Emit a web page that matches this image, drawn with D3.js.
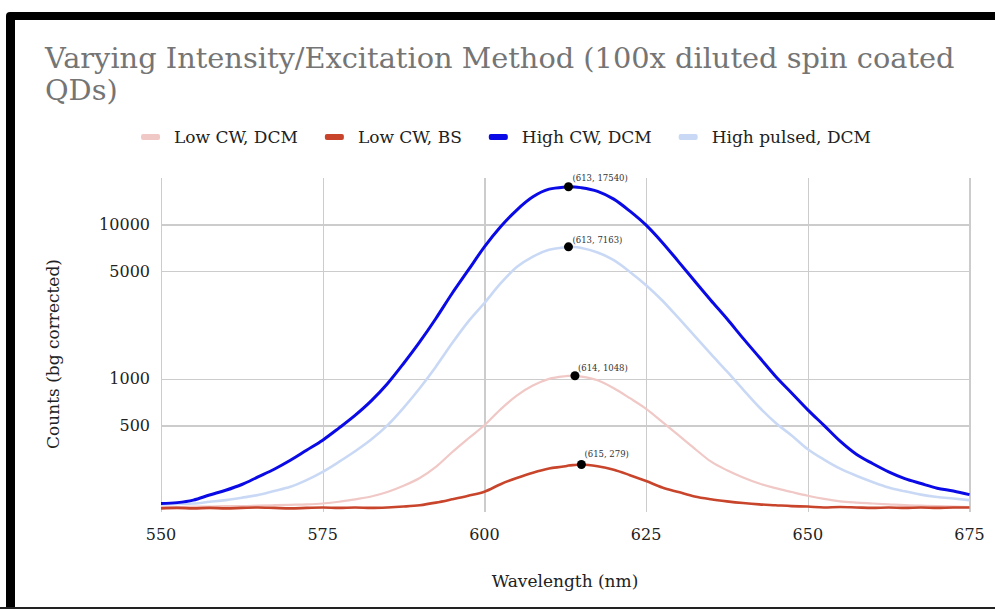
<!DOCTYPE html>
<html lang="en">
<head>
    <meta charset="UTF-8">
    <title>Varying Intensity/Excitation Method</title>
    <script src="https://cdnjs.cloudflare.com/ajax/libs/d3/7.8.5/d3.min.js"></script>
    <style>
        body { margin: 0; background: #fff; }
        svg { display: block; font-family: "DejaVu Serif", "Liberation Serif", serif; }
        .grid line { stroke: #cccccc; stroke-width: 1.3; shape-rendering: crispEdges; }
        .grid path { display: none; }
        .tick-label { font-size: 16px; fill: #222; }
        .axis-title { font-size: 17px; fill: #222; }
        .legend text { font-size: 17px; fill: #222; }
        .peak-label { font-size: 8.5px; fill: #333; }
    </style>
</head>
<body>
<div id="chart"></div>
<script>
    // wavelength (nm) sample points
    const wavelengths = [550, 552.5, 555, 557.5, 560, 562.5, 565, 567.5, 570, 572.5, 575, 577.5, 580, 582.5, 585, 587.5,
        590, 592.5, 595, 597.5, 600, 602.5, 605, 607.5, 610, 612.5, 613, 614, 615, 617.5, 620, 622.5, 625, 627.5, 630,
        632.5, 635, 637.5, 640, 642.5, 645, 647.5, 650, 652.5, 655, 657.5, 660, 662.5, 665, 667.5, 670, 672.5, 675];

    const lowCwDcm = [148, 148, 149, 149, 150, 150, 151, 152, 153, 154, 156, 160, 166, 173, 185, 203,
        228, 269, 335, 411, 501, 635, 780, 905, 1000, 1040, 1045, 1048, 1035, 980, 870, 750, 640, 527, 432,
        354, 292, 256, 230, 210, 196, 185, 175, 167, 161, 158, 156, 154, 152, 151, 150, 149, 148];

    const lowCwBs = [145, 146, 145, 146, 145, 146, 147, 146, 145, 146, 147, 146, 147, 146, 147, 149,
        152, 158, 166, 175, 186, 208, 228, 247, 263, 272, 275, 277, 279, 272, 258, 238, 218, 198, 185,
        173, 166, 161, 157, 154, 152, 150, 149, 147, 148, 147, 146, 147, 146, 147, 146, 147, 147];

    const highCwDcm = [156, 158, 164, 177, 190, 207, 232, 260, 297, 345, 401, 480, 580, 720, 930, 1258,
        1736, 2462, 3573, 5058, 7161, 9660, 12400, 15100, 16930, 17480, 17540, 17500, 17300, 16400, 14600, 12200, 9900, 7650, 5750,
        4300, 3230, 2450, 1830, 1380, 1040, 810, 630, 500, 395, 325, 283, 250, 226, 210, 196, 188, 178];

    const highPulsedDcm = [154, 155, 156, 160, 164, 170, 177, 188, 200, 221, 250, 290, 340, 405, 500, 650,
        870, 1200, 1700, 2350, 3100, 4150, 5300, 6200, 6850, 7120, 7163, 7150, 7050, 6590, 5870, 4930, 4045, 3220, 2480,
        1900, 1450, 1117, 853, 655, 520, 430, 350, 300, 262, 236, 215, 198, 187, 178, 172, 168, 164];

    const seriesNames = ["Low CW, DCM", "Low CW, BS", "High CW, DCM", "High pulsed, DCM"];
    const seriesValues = [lowCwDcm, lowCwBs, highCwDcm, highPulsedDcm];
    const seriesColors = ["#f0c8c6", "#c8452c", "#0a0ae6", "#c9d9f5"];
    const seriesWidths = [2.2, 2.6, 3, 2.6];
    const drawOrder = [3, 0, 1, 2];

    // annotated peaks [wavelength, counts]
    const peaks = [[613, 17540], [613, 7163], [614, 1048], [615, 279]];
    const peakOffsets = [[4, -6], [4, -4], [3, -5], [3, -7]];

    const xTicks = [550, 575, 600, 625, 650, 675];
    const yTicks = [500, 1000, 5000, 10000];

    const W = 995, H = 609;
    const plot = {left: 161, right: 969.5, top: 178, bottom: 511.7};

    const svg = d3.select("#chart").append("svg")
        .attr("width", W)
        .attr("height", H);

    // screenshot frame
    svg.append("rect").attr("x", 6).attr("y", 12).attr("width", 1000).attr("height", 620)
        .attr("rx", 4).attr("fill", "#000");
    svg.append("rect").attr("x", 15).attr("y", 20).attr("width", 990).attr("height", 587)
        .attr("fill", "#fff");
    svg.append("rect").attr("x", 0).attr("y", 607).attr("width", W).attr("height", 2)
        .attr("fill", "#222");

    const x = d3.scaleLinear().domain([550, 675]).range([plot.left, plot.right]);
    const y = d3.scaleLog().domain([138, 20000]).range([plot.bottom, plot.top]);

    // grid
    svg.append("g")
        .attr("class", "grid")
        .attr("transform", `translate(0,${plot.bottom})`)
        .call(d3.axisBottom(x).tickValues(xTicks).tickSize(-(plot.bottom - plot.top)).tickFormat(""));
    svg.append("g")
        .attr("class", "grid")
        .attr("transform", `translate(${plot.left},0)`)
        .call(d3.axisLeft(y).tickValues(yTicks).tickSize(-(plot.right - plot.left)).tickFormat(""));

    // tick labels
    svg.selectAll(".xt").data(xTicks).enter().append("text")
        .attr("class", "tick-label")
        .attr("x", d => x(d))
        .attr("y", 540)
        .attr("text-anchor", "middle")
        .text(d => d);
    svg.selectAll(".yt").data(yTicks).enter().append("text")
        .attr("class", "tick-label")
        .attr("x", 150)
        .attr("y", d => y(d))
        .attr("dy", "0.35em")
        .attr("text-anchor", "end")
        .text(d => d);

    // axis titles
    svg.append("text")
        .attr("class", "axis-title")
        .attr("x", 565)
        .attr("y", 587)
        .attr("text-anchor", "middle")
        .text("Wavelength (nm)");
    svg.append("text")
        .attr("class", "axis-title")
        .attr("transform", "translate(53,354) rotate(-90)")
        .attr("dy", "0.35em")
        .attr("text-anchor", "middle")
        .text("Counts (bg corrected)");

    // lines
    const line = d3.line()
        .x(d => x(d[0]))
        .y(d => y(d[1]))
        .curve(d3.curveMonotoneX);

    drawOrder.forEach(i => {
        svg.append("path")
            .datum(wavelengths.map((w, j) => [w, seriesValues[i][j]]))
            .attr("fill", "none")
            .attr("stroke", seriesColors[i])
            .attr("stroke-width", seriesWidths[i])
            .attr("stroke-linejoin", "round")
            .attr("d", line);
    });

    // peak markers
    peaks.forEach((p, i) => {
        svg.append("circle")
            .attr("cx", x(p[0]))
            .attr("cy", y(p[1]))
            .attr("r", 4.5)
            .attr("fill", "#000");
        svg.append("text")
            .attr("class", "peak-label")
            .attr("x", x(p[0]) + peakOffsets[i][0])
            .attr("y", y(p[1]) + peakOffsets[i][1])
            .text(`(${p[0]}, ${p[1]})`);
    });

    // title, fitted to the width of the original first line
    const title = svg.append("text")
        .attr("x", 45)
        .attr("y", 68)
        .attr("fill", "#757575")
        .style("font-size", "30px");
    title.append("tspan").attr("x", 45).text("Varying Intensity/Excitation Method (100x diluted spin coated");
    title.append("tspan").attr("x", 45).attr("dy", 32).text("QDs)");
    const firstLine = title.select("tspan").node().getComputedTextLength();
    title.style("font-size", (30 * 910 / firstLine) + "px");

    // legend
    const legend = svg.append("g").attr("class", "legend");
    let lx = 0;
    seriesNames.forEach((name, i) => {
        legend.append("rect")
            .attr("x", lx).attr("y", 134)
            .attr("width", 19).attr("height", 6).attr("rx", 2)
            .attr("fill", seriesColors[i]);
        const t = legend.append("text")
            .attr("x", lx + 33).attr("y", 143)
            .text(name);
        lx += 33 + t.node().getComputedTextLength() + 27;
    });
    lx -= 27;
    legend.attr("transform", `translate(${506 - lx / 2},0)`);
</script>
</body>
</html>
